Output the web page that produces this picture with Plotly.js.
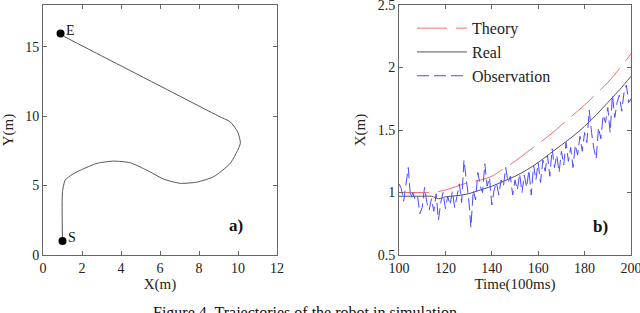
<!DOCTYPE html>
<html>
<head>
<meta charset="utf-8">
<script src="https://cdn.plot.ly/plotly-3.0.1.min.js"></script>
<style>
html,body{margin:0;padding:0;background:#fff;}
#chart{width:640px;height:313px;}
</style>
</head>
<body>
<div id="chart"></div>
<script>
// ---- Panel a) trajectory ----
const pathX = [1.0, 1.0, 1.14, 1.5, 1.91, 2.77, 3.62, 4.48, 5.33, 6.18, 7.04, 7.9, 8.75, 9.6, 10.12, 9.98, 9.6, 9.0, 7.04, 5.16, 3.0, 1.06];
const pathY = [1.0, 4.55, 5.4, 5.8, 6.1, 6.6, 6.76, 6.64, 6.1, 5.47, 5.16, 5.25, 5.64, 6.6, 8.04, 8.87, 9.59, 10.0, 11.42, 12.78, 14.34, 15.75];
const endpointX = [1.0, 0.9];
const endpointY = [1.0, 15.95];
const endpointLabels = ["S", "E"];

// ---- Panel b) X over time ----
const theoryT = [100, 105, 110, 115, 120, 125, 130, 135, 140, 145, 150, 155, 160, 165, 170, 175, 180, 185, 190, 195, 200];
const theoryX = [1.0, 1.0, 1.0, 1.0, 1.02, 1.05, 1.08, 1.1, 1.13, 1.19, 1.25, 1.32, 1.39, 1.46, 1.54, 1.62, 1.70, 1.79, 1.88, 1.99, 2.11];
const realT = [100, 105, 110, 114, 117, 120, 125, 130, 135, 140, 145, 150, 155, 160, 165, 170, 175, 180, 185, 190, 195, 200];
const realX = [0.97, 0.97, 0.97, 0.97, 0.95, 0.965, 0.975, 0.99, 1.02, 1.05, 1.09, 1.13, 1.18, 1.24, 1.31, 1.38, 1.45, 1.53, 1.62, 1.72, 1.82, 1.93];
const obsT = [];
for (let t = 100; t <= 200; t++) obsT.push(t);
const obsX = [1.07, 1.03, 0.93, 1.05, 1.20, 0.95, 1.00, 0.94, 0.97, 0.83,
              0.88, 1.04, 0.92, 0.86, 0.95, 0.85, 0.99, 0.78, 0.92, 1.00,
              0.87, 0.97, 0.90, 1.01, 0.88, 0.97, 1.07, 0.92, 1.26, 1.10,
              0.96, 0.72, 1.02, 0.94, 1.16, 1.05, 1.00, 1.23, 1.05, 1.12,
              0.90, 1.02, 1.08, 0.98, 1.10, 1.05, 1.20, 1.08, 1.13, 0.98,
              1.10, 1.02, 1.15, 1.00, 1.14, 1.04, 1.18, 0.98, 1.22, 1.10,
              1.24, 1.08, 1.26, 1.17, 1.30, 1.13, 1.35, 1.20, 1.30, 1.16,
              1.33, 1.22, 1.40, 1.25, 1.36, 1.20, 1.38, 1.30, 1.45, 1.33,
              1.48, 1.40, 1.66, 1.48, 1.35, 1.27, 1.52, 1.43, 1.62, 1.56,
              1.68, 1.48, 1.78, 1.60, 1.72, 1.78, 1.65, 1.80, 1.86, 1.72, 1.75];

const FONT = '"Liberation Serif", "Times New Roman", serif';

const traces = [
  {x: pathX, y: pathY, xaxis: 'x', yaxis: 'y', mode: 'lines', line: {color: '#555', width: 1, shape: 'spline', smoothing: 0.6}, showlegend: false, hoverinfo: 'skip'},
  {x: endpointX, y: endpointY, xaxis: 'x', yaxis: 'y', mode: 'markers', marker: {color: '#000', size: 8}, showlegend: false},
  {x: theoryT, y: theoryX, xaxis: 'x2', yaxis: 'y2', mode: 'lines', name: 'Theory', line: {color: '#ff6a6a', width: 1, dash: '30px,9px', shape: 'spline'}},
  {x: realT, y: realX, xaxis: 'x2', yaxis: 'y2', mode: 'lines', name: 'Real', line: {color: '#555', width: 1, shape: 'spline'}},
  {x: obsT, y: obsX, xaxis: 'x2', yaxis: 'y2', mode: 'lines', name: 'Observation', line: {color: '#4a4aff', width: 1, dash: '12px,5px'}}
];

const axisCommon = {
  showline: true, mirror: 'ticks', linecolor: '#666', linewidth: 1,
  ticks: 'inside', ticklen: 4, tickcolor: '#666', showgrid: false, zeroline: false,
  tickfont: {family: FONT, size: 14, color: '#222'}, automargin: false,
  ticklabeloverflow: 'allow'
};

const annotations = endpointLabels.map((s, i) => ({
  x: endpointX[i] + 0.2, y: endpointY[i] + 0.25, xref: 'x', yref: 'y', text: s,
  showarrow: false, xanchor: 'left', font: {family: FONT, size: 14, color: '#111'}
}));
annotations.push({x: 9.9, y: 2.1, xref: 'x', yref: 'y', text: '<b>a)</b>', showarrow: false, font: {family: FONT, size: 17, color: '#111'}});
annotations.push({x: 187, y: 0.73, xref: 'x2', yref: 'y2', text: '<b>b)</b>', showarrow: false, font: {family: FONT, size: 17, color: '#111'}});
annotations.push({x: 0.477, y: -0.232, xref: 'paper', yref: 'paper', text: 'Figure 4. Trajectories of the robot in simulation', showarrow: false, xanchor: 'center', yanchor: 'middle', font: {family: FONT, size: 16, color: '#111'}});

const layout = {
  width: 640, height: 313,
  margin: {l: 0, r: 0, t: 5, b: 58},
  paper_bgcolor: '#fff', plot_bgcolor: '#fff',
  font: {family: FONT, size: 14, color: '#222'},
  xaxis: Object.assign({}, axisCommon, {domain: [43/640, 277/640], range: [0, 12], dtick: 2, tick0: 0,
    title: {text: 'X(m)', font: {family: FONT, size: 15, color: '#222'}, standoff: 2}}),
  yaxis: Object.assign({}, axisCommon, {domain: [0, 1], range: [0, 18], tickvals: [0, 5, 10, 15],
    title: {text: 'Y(m)', font: {family: FONT, size: 15, color: '#222'}, standoff: 8}}),
  xaxis2: Object.assign({}, axisCommon, {domain: [399/640, 631/640], range: [100, 200], dtick: 20, tick0: 100, anchor: 'y2',
    title: {text: 'Time(100ms)', font: {family: FONT, size: 15, color: '#222'}, standoff: 2}}),
  yaxis2: Object.assign({}, axisCommon, {domain: [0, 1], range: [0.5, 2.5], tickvals: [0.5, 1, 1.5, 2, 2.5], ticktext: ['0.5', '1', '1.5', '2', '2.5'], anchor: 'x2',
    title: {text: 'X(m)', font: {family: FONT, size: 15, color: '#222'}, standoff: 8}}),
  legend: {x: 412/640, y: 0.975, xanchor: 'left', yanchor: 'top', bgcolor: 'rgba(0,0,0,0)',
    itemwidth: 50, font: {family: FONT, size: 16, color: '#222'}},
  annotations: annotations,
  showlegend: true
};

Plotly.newPlot('chart', traces, layout, {staticPlot: true, displayModeBar: false});
</script>
</body>
</html>
